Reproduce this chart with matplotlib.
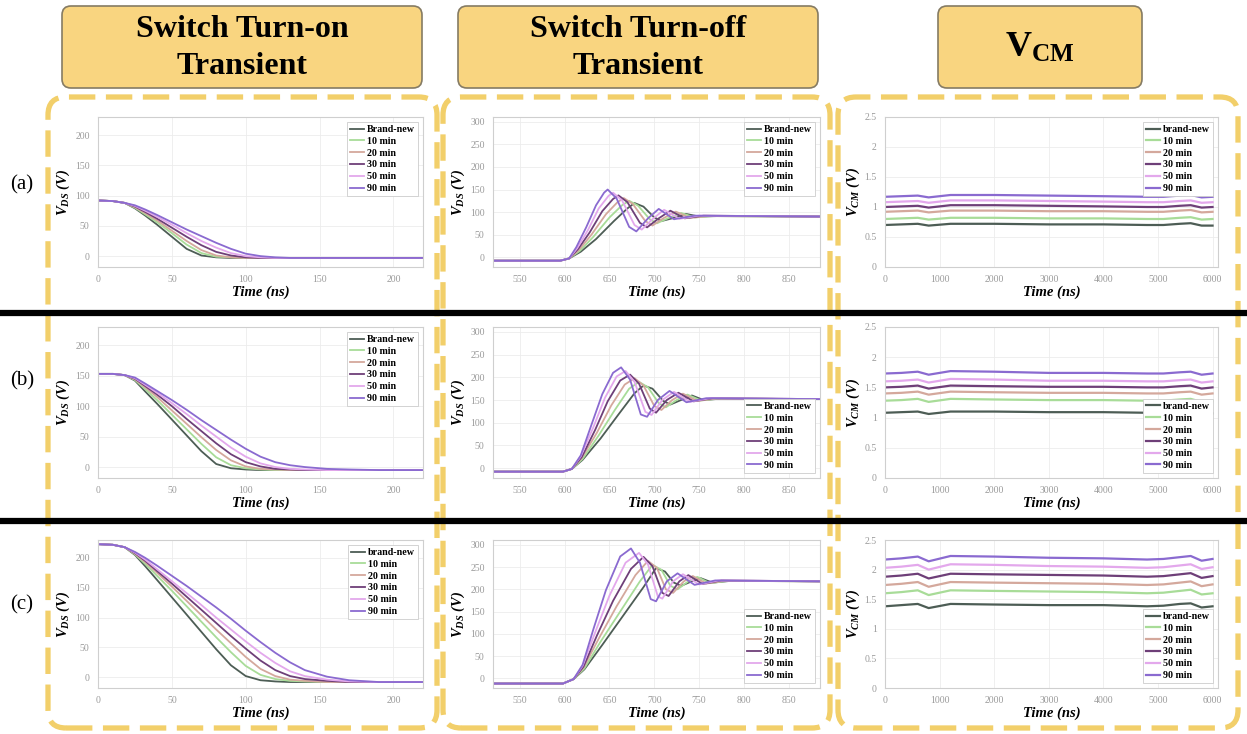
import matplotlib as mp
mp.use('Agg')
import matplotlib.pyplot as plt
from matplotlib.patches import FancyBboxPatch
from matplotlib.lines import Line2D
from matplotlib.transforms import IdentityTransform

mp.rcParams['font.family']='serif'
mp.rcParams['font.serif']=['Liberation Serif','DejaVu Serif']
mp.rcParams['mathtext.fontset']='custom'
mp.rcParams['mathtext.rm']='Liberation Serif'
mp.rcParams['mathtext.it']='Liberation Serif:italic:bold'
mp.rcParams['mathtext.bf']='Liberation Serif:bold'

W,H=1247,734

labels=['Brand-new','10 min','20 min','30 min','50 min','90 min']
colors=['#4d5d55','#a8dc98','#d4a89c','#6e3f78','#e3a8ec','#8a6ad0']
# first legend entry is spelled differently in some panels
bn_names=[['Brand-new','Brand-new','brand-new'],
          ['Brand-new','Brand-new','brand-new'],
          ['brand-new','Brand-new','brand-new']]

# ---- switch turn-on transient (V_DS vs time, ns)
t_on=[0,10,18,25,32,40,50,60,70,80,90,100,110,120,130,140,155,170,190,220]
on_a=[[92,91,88,79,67,52,32,12,1,-2,-3,-3,-3,-3,-3,-3,-3,-3,-3,-3],
      [92,91,88,80,69,56,38,19,5,-1,-2,-3,-3,-3,-3,-3,-3,-3,-3,-3],
      [92,91,88,81,71,59,42,25,10,1,-2,-3,-3,-3,-3,-3,-3,-3,-3,-3],
      [92,91,88,82,73,62,47,32,18,7,1,-2,-3,-3,-3,-3,-3,-3,-3,-3],
      [92,91,88,83,75,65,52,38,25,14,5,0,-2,-3,-3,-3,-3,-3,-3,-3],
      [92,91,88,84,77,68,56,44,33,22,12,4,0,-2,-3,-3,-3,-3,-3,-3]]
on_b=[[153,153,151,142,124,104,78,52,26,5,-2,-4,-5,-5,-5,-5,-5,-5,-5,-5],
      [153,153,151,143,128,110,86,62,38,16,3,-2,-4,-5,-5,-5,-5,-5,-5,-5],
      [153,153,151,144,131,115,93,71,49,28,11,1,-3,-4,-5,-5,-5,-5,-5,-5],
      [153,153,151,145,133,119,100,79,59,39,21,8,1,-3,-4,-5,-5,-5,-5,-5],
      [153,153,151,146,135,122,105,87,68,50,32,17,6,0,-3,-4,-5,-5,-5,-5],
      [153,153,151,147,137,125,110,94,77,61,45,30,17,8,3,0,-3,-4,-5,-5]]
on_c=[[223,222,218,205,186,163,134,105,76,47,20,2,-5,-7,-8,-8,-8,-8,-8,-8],
      [223,222,218,206,190,170,145,119,93,67,42,19,4,-3,-6,-7,-8,-8,-8,-8],
      [223,222,218,207,193,175,152,128,104,80,57,34,14,2,-4,-6,-8,-8,-8,-8],
      [223,222,218,208,195,178,157,135,113,91,69,48,28,12,2,-3,-6,-8,-8,-8],
      [223,222,218,209,197,181,161,141,121,100,80,60,41,24,10,2,-4,-7,-8,-8],
      [223,222,218,210,200,187,170,153,135,117,98,78,59,41,25,12,1,-5,-8,-8]]

# ---- switch turn-off transient, each curve read at its own time points
off_a_t=[[520,595,605,618,635,655,670,678,688,700,708,720,735,750,770,885],
         [520,595,605,617,632,650,664,672,682,695,703,715,730,745,765,885],
         [520,595,605,616,630,646,659,666,676,690,698,710,724,740,760,885],
         [520,595,605,615,628,642,654,660,670,684,692,705,718,734,755,885],
         [520,595,605,614,626,638,649,654,664,678,686,699,711,728,750,885],
         [520,595,605,613,624,635,644,648,658,672,680,693,705,722,745,885]]
off_a_v=[[-8,-8,-3,12,40,80,108,120,112,88,80,86,96,90,91,90],
         [-8,-8,-3,14,45,88,115,125,114,84,75,86,98,88,91,90],
         [-8,-8,-3,16,50,95,122,131,118,80,70,86,101,87,91,90],
         [-8,-8,-3,18,55,102,129,137,122,76,66,86,103,86,92,90],
         [-8,-8,-3,20,60,108,136,143,126,71,61,86,105,85,92,90],
         [-8,-8,-3,22,66,115,143,150,130,67,57,86,107,84,92,90]]
off_b_t=[[520,598,608,620,640,660,678,688,698,710,718,730,742,755,775,885],
         [520,598,608,620,638,656,672,683,693,705,713,725,737,752,772,885],
         [520,598,608,619,636,652,667,678,688,700,708,720,732,748,768,885],
         [520,598,608,619,634,648,662,673,683,695,702,714,727,744,765,885],
         [520,598,608,618,632,645,658,668,678,690,697,709,722,740,762,885],
         [520,598,608,618,630,642,654,663,673,685,692,704,717,736,758,885]]
off_b_v=[[-8,-8,-2,18,65,118,165,182,175,148,140,150,160,150,153,152],
         [-8,-8,-2,20,72,128,175,190,178,143,134,150,162,149,153,152],
         [-8,-8,-2,22,78,138,184,198,182,137,128,150,164,148,153,152],
         [-8,-8,-2,24,84,147,193,206,186,131,122,150,166,147,154,152],
         [-8,-8,-2,26,90,155,202,214,190,124,117,150,168,146,154,152],
         [-8,-8,-2,28,96,163,210,222,195,118,113,150,170,145,154,152]]
off_c_t=[[520,598,610,622,642,665,688,702,712,722,730,742,752,765,785,885],
         [520,598,610,622,640,662,684,698,708,718,726,738,748,762,782,885],
         [520,598,610,621,638,658,679,693,703,713,721,733,743,758,778,885],
         [520,598,610,621,636,654,674,688,698,709,716,728,738,754,775,885],
         [520,598,610,620,634,650,668,683,693,704,709,721,732,750,772,885],
         [520,598,610,620,632,646,662,674,684,696,702,714,726,745,768,885]]
off_c_v=[[-12,-12,-2,20,75,140,205,248,240,215,208,218,225,215,219,218],
         [-12,-12,-2,22,82,150,218,255,244,208,200,218,228,214,219,218],
         [-12,-12,-2,24,89,162,232,264,248,200,192,218,230,213,219,218],
         [-12,-12,-2,26,96,174,246,273,252,192,185,218,232,212,220,218],
         [-12,-12,-2,28,103,186,260,282,256,184,179,218,234,211,220,218],
         [-12,-12,-2,30,110,198,274,292,260,178,173,218,236,210,220,218]]

# ---- common mode voltage
t_cm=[0,300,600,800,1200,2000,3000,4000,4800,5100,5400,5600,5800,6000]
cm_a=[[0.70,0.71,0.72,0.69,0.72,0.72,0.71,0.71,0.70,0.70,0.72,0.73,0.69,0.69],
      [0.80,0.81,0.82,0.79,0.82,0.82,0.81,0.81,0.80,0.80,0.82,0.83,0.79,0.80],
      [0.92,0.93,0.94,0.91,0.94,0.94,0.93,0.93,0.92,0.92,0.94,0.95,0.91,0.92],
      [1.00,1.01,1.02,0.99,1.03,1.03,1.02,1.01,1.00,1.00,1.02,1.03,0.99,1.00],
      [1.08,1.09,1.10,1.07,1.11,1.11,1.10,1.09,1.08,1.08,1.10,1.11,1.07,1.08],
      [1.17,1.18,1.19,1.16,1.20,1.20,1.19,1.18,1.17,1.17,1.19,1.20,1.16,1.17]]
cm_b=[[1.08,1.09,1.10,1.06,1.10,1.10,1.09,1.09,1.08,1.08,1.10,1.11,1.06,1.07],
      [1.28,1.29,1.31,1.26,1.31,1.30,1.29,1.29,1.28,1.28,1.30,1.31,1.26,1.27],
      [1.40,1.41,1.43,1.38,1.43,1.42,1.41,1.41,1.40,1.40,1.42,1.43,1.38,1.40],
      [1.50,1.51,1.53,1.48,1.53,1.52,1.51,1.51,1.50,1.50,1.52,1.53,1.48,1.50],
      [1.60,1.61,1.63,1.58,1.64,1.63,1.61,1.61,1.60,1.60,1.62,1.63,1.58,1.60],
      [1.73,1.74,1.76,1.71,1.77,1.76,1.74,1.74,1.73,1.73,1.75,1.76,1.71,1.73]]
cm_c=[[1.38,1.40,1.42,1.35,1.42,1.41,1.40,1.40,1.38,1.39,1.42,1.43,1.36,1.38],
      [1.60,1.62,1.65,1.57,1.65,1.64,1.63,1.62,1.60,1.61,1.64,1.66,1.58,1.60],
      [1.74,1.76,1.79,1.71,1.79,1.78,1.77,1.76,1.74,1.75,1.78,1.80,1.72,1.75],
      [1.88,1.90,1.93,1.85,1.93,1.92,1.91,1.90,1.88,1.89,1.92,1.94,1.86,1.89],
      [2.03,2.05,2.08,2.00,2.09,2.08,2.06,2.05,2.03,2.04,2.07,2.09,2.01,2.04],
      [2.17,2.19,2.22,2.14,2.23,2.22,2.20,2.19,2.17,2.18,2.21,2.23,2.15,2.18]]

# axes boxes in pixels
cols=[(98,423),(493,820),(885,1218)]
rows=[(117,267),(327,478),(540,688)]

fig=plt.figure(figsize=(W/100,H/100),dpi=100)
px=IdentityTransform()

def style(ax):
    for s in ax.spines.values():
        s.set_color('#cfcfcf'); s.set_linewidth(0.8)
    ax.grid(True,color='#ececec',lw=0.6)
    ax.set_axisbelow(True)
    ax.tick_params(length=0,labelsize=7,labelcolor='#9a9a9a',pad=6)
    ax.set_xlabel('Time (ns)',fontsize=10.5,fontweight='bold',fontstyle='italic',labelpad=1)

def leg(ax,loc,first):
    h,l=ax.get_legend_handles_labels()
    l[0]=first
    lg=ax.legend(h,l,loc=loc,handlelength=1.4,handletextpad=0.3,
                 labelspacing=0.28,borderpad=0.3,fancybox=False,framealpha=1,
                 prop={'weight':'bold','size':7.2})
    lg.get_frame().set_edgecolor('#cccccc'); lg.get_frame().set_linewidth(0.6)

on_sets=[on_a,on_b,on_c]
off_t=[off_a_t,off_b_t,off_c_t]
off_v=[off_a_v,off_b_v,off_c_v]
cm_sets=[cm_a,cm_b,cm_c]

for r in range(3):
    y0,y1=rows[r]
    axs=[]
    for c in range(3):
        x0,x1=cols[c]
        axs.append(fig.add_axes([x0/W,1-y1/H,(x1-x0)/W,(y1-y0)/H]))
    a1,a2,a3=axs

    for i in range(6):
        a1.plot(t_on,on_sets[r][i],color=colors[i],lw=1.3,label=labels[i])
    a1.set_xlim(0,220); a1.set_ylim(-18,230)
    a1.set_xticks([0,50,100,150,200]); a1.set_yticks([0,50,100,150,200])
    style(a1)
    a1.set_ylabel(r'$V_{DS}$ (V)',fontsize=10.5,fontweight='bold',fontstyle='italic',labelpad=2)
    leg(a1,'upper right',bn_names[r][0])

    for i in range(6):
        a2.plot(off_t[r][i],off_v[r][i],color=colors[i],lw=1.3,label=labels[i])
    a2.set_xlim(520,885); a2.set_ylim(-22,311)
    a2.set_xticks([550,600,650,700,750,800,850]); a2.set_yticks([0,50,100,150,200,250,300])
    style(a2)
    a2.set_ylabel(r'$V_{DS}$ (V)',fontsize=10.5,fontweight='bold',fontstyle='italic',labelpad=2)
    leg(a2,'upper right' if r==0 else 'lower right',bn_names[r][1])

    for i in range(6):
        a3.plot(t_cm,cm_sets[r][i],color=colors[i],lw=1.6,label=labels[i])
    a3.set_xlim(0,6100); a3.set_ylim(0,2.5)
    a3.set_xticks([0,1000,2000,3000,4000,5000,6000])
    a3.set_yticks([0,0.5,1,1.5,2,2.5]); a3.set_yticklabels(['0','0.5','1','1.5','2','2.5'])
    style(a3)
    a3.set_ylabel(r'$V_{CM}$ (V)',fontsize=10.5,fontweight='bold',fontstyle='italic',labelpad=2)
    leg(a3,'upper right' if r==0 else 'lower right',bn_names[r][2])

# dashed column frames
for (x0,x1) in [(48,437),(443,830),(838,1238)]:
    fig.add_artist(FancyBboxPatch((x0,H-728),x1-x0,728-97,boxstyle='round,pad=0,rounding_size=18',
                                  transform=px,fc='none',ec='#f2cf6a',lw=3.8,ls=(0,(5,2)),zorder=1))

# black separators
for y in [313,521]:
    fig.add_artist(Line2D([0,W],[H-y,H-y],transform=px,color='black',lw=4.5,zorder=5))

# header boxes
heads=[(62,422,'Switch Turn-on\nTransient'),(458,818,'Switch Turn-off\nTransient'),
       (938,1142,r'$\mathbf{V}_\mathbf{CM}$')]
for x0,x1,txt in heads:
    fig.add_artist(FancyBboxPatch((x0,H-88),x1-x0,82,boxstyle='round,pad=0,rounding_size=9',
                                  transform=px,fc='#f9d580',ec='#857b63',lw=1.2,zorder=2))
    fs=23 if 'Switch' in txt else 26
    fig.text((x0+x1)/2/W,1-48/H,txt,ha='center',va='center',fontsize=fs,fontweight='bold',
             linespacing=1.35,zorder=3)

for lab,y in [('(a)',185),('(b)',381),('(c)',605)]:
    fig.text(22/W,1-y/H,lab,ha='center',va='center',fontsize=15)

fig.savefig('out.png',dpi=100)
